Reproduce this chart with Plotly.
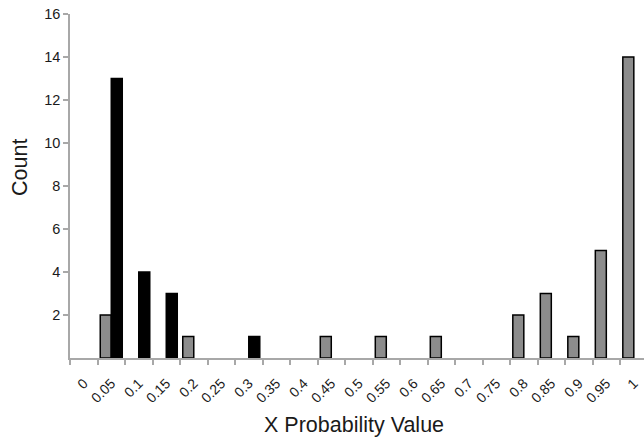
import plotly.graph_objects as go

categories = ["0", "0.05", "0.1", "0.15", "0.2", "0.25", "0.3", "0.35", "0.4", "0.45",
              "0.5", "0.55", "0.6", "0.65", "0.7", "0.75", "0.8", "0.85", "0.9", "0.95", "1"]
gray_counts = [0, 2, 0, 0, 1, 0, 0, 0, 0, 1, 0, 1, 0, 1, 0, 0, 2, 3, 1, 5, 14]
black_counts = [0, 13, 4, 3, 0, 0, 1, 0, 0, 0, 0, 0, 0, 0, 0, 0, 0, 0, 0, 0, 0]
y_ticks = [2, 4, 6, 8, 10, 12, 14, 16]

def nz(vals):
    return [v if v else None for v in vals]

fig = go.Figure()
fig.add_trace(go.Bar(x=categories, y=nz(gray_counts), name="gray",
                     marker=dict(color="#8c8c8c", line=dict(color="#000000", width=1.5))))
fig.add_trace(go.Bar(x=categories, y=nz(black_counts), name="black",
                     marker=dict(color="#000000", line=dict(color="#000000", width=1.5))))

axis_col = "#a8a8a8"
fig.update_layout(
    width=644, height=439,
    margin=dict(l=70, r=0, t=14, b=81, autoexpand=False),
    paper_bgcolor="white", plot_bgcolor="white",
    showlegend=False,
    barmode="group", bargap=0.2, bargroupgap=0,
    font=dict(family="Liberation Sans, Arial, sans-serif", color="#1a1a1a", size=14),
    xaxis=dict(type="category", categoryorder="array", categoryarray=categories,
               range=[-0.5, 20.37], tickson="boundaries", ticks="outside", ticklen=5,
               tickcolor=axis_col, tickwidth=1.5, showline=True, linecolor=axis_col,
               linewidth=1.5, showgrid=False, tickangle=-45, zeroline=False,
               automargin=False, ticklabelstandoff=10, tickfont=dict(size=14)),
    yaxis=dict(range=[0, 16], tickvals=y_ticks, ticks="outside", ticklen=5,
               tickcolor=axis_col, tickwidth=1.5, showline=True, linecolor=axis_col,
               linewidth=1.5, showgrid=False, zeroline=False, ticklabelstandoff=0,
               automargin=False, tickfont=dict(size=14.5)),
    annotations=[
        dict(text="X Probability Value", xref="paper", yref="paper",
             x=(354 - 70) / 574, y=(358 - 425) / 344, showarrow=False,
             xanchor="center", yanchor="middle", font=dict(size=21.5)),
        dict(text="Count", xref="paper", yref="paper", textangle=-90,
             x=(20 - 70) / 574, y=(358 - 168) / 344, showarrow=False,
             xanchor="center", yanchor="middle", font=dict(size=21.5)),
    ],
)

fig.write_html("out.html", config={"displayModeBar": False},
               post_script="document.body.style.margin='0';document.body.style.overflow='hidden';")
